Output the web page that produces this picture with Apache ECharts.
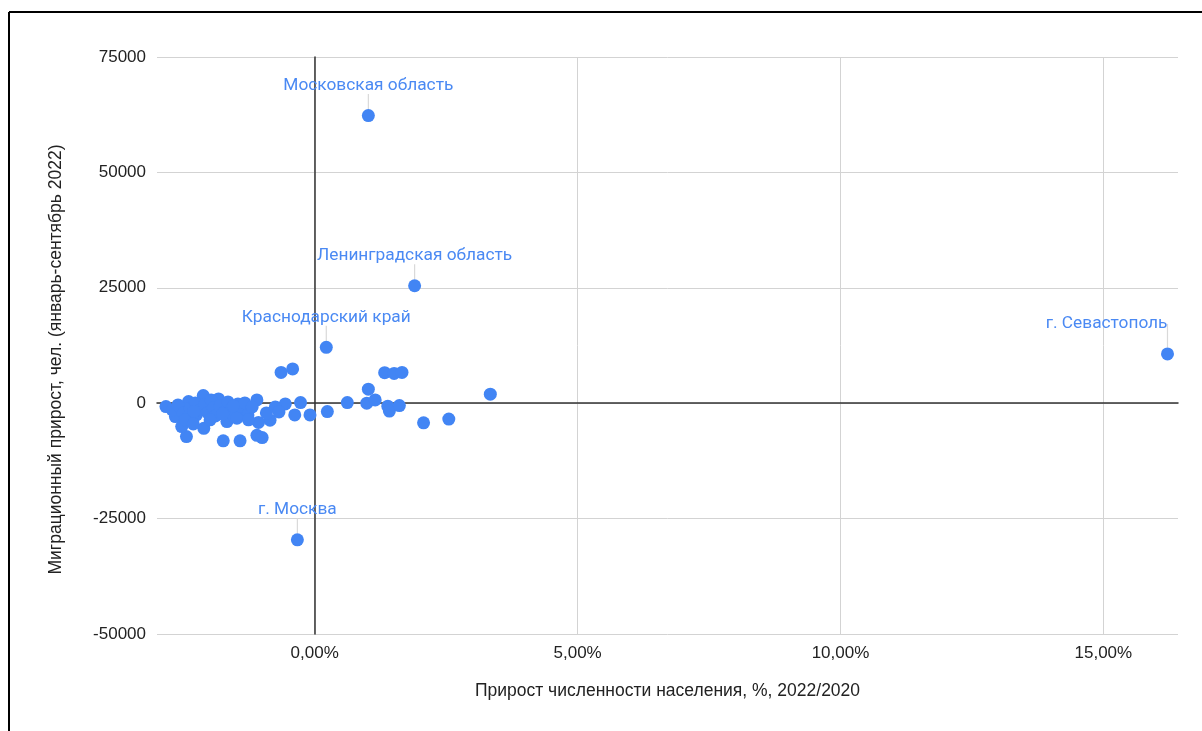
<!DOCTYPE html>
<html>
<head>
<meta charset="utf-8">
<script src="https://cdn.jsdelivr.net/npm/echarts@6/dist/echarts.min.js"></script>
<style>
html,body{margin:0;padding:0;background:#fff;}
#chart{width:1202px;height:731px;}
</style>
</head>
<body>
<div id="chart"></div>
<script>
// Population growth, %, 2022/2020
const popGrowth = [
  1.02, 1.90, 0.22, 16.22, -0.33,
  -0.64, -0.42, 1.33, 1.51, 1.66, 1.02, 3.34, 0.62, 0.99, 1.15, 1.39, 1.42, 1.61, 2.07, 2.55,
  0.24, -0.09, -0.38, -0.56, -0.27, -0.85, -1.07, -1.10, -1.00, -1.42, -1.74, -2.44, -2.53, -2.11,
  -2.65, -2.83, -2.12, -2.40, -1.83, -1.10, -1.67,
  -2.71, -2.60, -2.50, -2.37, -2.27, -2.25, -2.18, -2.09, -2.03, -1.97, -1.93, -1.89, -1.80, -1.72,
  -1.65, -1.59, -1.54, -1.46, -1.38, -1.33, -1.27, -1.19, -0.92, -0.75, -0.68, -2.46, -2.31, -1.99,
  -1.48, -1.26, -2.30, -1.75, -1.55
];
// Migration growth, persons (Jan-Sep 2022)
const migration = [
  62300, 25450, 12100, 10670, -29600,
  6670, 7420, 6620, 6450, 6670, 3030, 1950, 130, 0, 710, -650, -1710, -520, -4260, -3440,
  -1820, -2530, -2530, -150, 130, -3680, -4160, -6970, -7450, -8160, -8160, -7230, -5060, -5450,
  -2900, -740, 1650, 350, 930, 710, -3980,
  -1450, -370, -2100, -1020, 60, -2530, -1450, -150, -2100, 710, -1020, -2750, -580, -1880,
  280, -1230, -2750, -150, -1450, 60, -2530, -800, -2100, -800, -1880, -3610, -4480, -3610,
  -3250, -3610, -1800, -2300, -600
];
// Labelled regions (index -> name)
const labelNames = ['Московская область', 'Ленинградская область', 'Краснодарский край', 'г. Севастополь', 'г. Москва'];

const xTitle = 'Прирост численности населения, %, 2022/2020';
const yTitle = 'Миграционный прирост, чел. (январь-сентябрь 2022)';

const data = popGrowth.map((x, i) => {
  const name = labelNames[i] || '';
  const item = { name: name, value: [x, migration[i]] };
  if (name) {
    item.label = { show: true };
    if (name === 'г. Севастополь') item.label.align = 'right';
  }
  return item;
});

const chart = echarts.init(document.getElementById('chart'));
const tickFont = 'Liberation Sans, Arial, sans-serif';
const gridColor = '#d3d3d3';
const baseColor = '#333333';

chart.setOption({
  animation: false,
  graphic: [
    { type: 'line', shape: { x1: 9, y1: 12, x2: 1202, y2: 12 }, style: { stroke: '#000', lineWidth: 2 }, silent: true },
    { type: 'line', shape: { x1: 9, y1: 12, x2: 9, y2: 731 }, style: { stroke: '#000', lineWidth: 2 }, silent: true }
  ],
  grid: { left: 157, right: 24, top: 57, bottom: 97 },
  xAxis: [
    {
      type: 'value', min: -3, max: 16.42, splitNumber: 4,
      axisLine: { show: false, onZero: false },
      axisTick: { show: false },
      axisLabel: {
        fontSize: 17, color: '#222', fontFamily: tickFont, margin: 11,
        showMinLabel: false, showMaxLabel: false,
        formatter: v => (Math.abs(v % 5) < 1e-9 ? v.toFixed(2).replace('.', ',') + '%' : '')
      },
      splitLine: { show: true, showMinLine: false, showMaxLine: false, lineStyle: { color: gridColor, width: 1 } },
      name: xTitle, nameLocation: 'middle', nameGap: 48,
      nameTextStyle: { fontSize: 17.5, color: '#222', fontFamily: tickFont }
    },
    {
      type: 'value', min: -3, max: 16.42, position: 'top',
      axisLine: { show: true, onZero: true, lineStyle: { color: baseColor, width: 1.5 } },
      axisTick: { show: false }, axisLabel: { show: false }, splitLine: { show: false }
    }
  ],
  yAxis: [
    {
      type: 'value', min: -50000, max: 75000, interval: 25000,
      axisLine: { show: false, onZero: false },
      axisTick: { show: false },
      axisLabel: { fontSize: 17, color: '#222', fontFamily: tickFont, margin: 11, formatter: v => String(v) },
      splitLine: { show: true, lineStyle: { color: gridColor, width: 1 } },
      name: yTitle, nameLocation: 'middle', nameGap: 92,
      nameTextStyle: { fontSize: 17.5, color: '#222', fontFamily: tickFont, padding: [0, 28, 0, 0] }
    },
    {
      type: 'value', min: -50000, max: 75000, interval: 25000, position: 'right',
      axisLine: { show: true, onZero: true, lineStyle: { color: baseColor, width: 1.5 } },
      axisTick: { show: false }, axisLabel: { show: false }, splitLine: { show: false }
    }
  ],
  series: [{
    type: 'scatter',
    xAxisIndex: 0, yAxisIndex: 0,
    symbolSize: 13,
    itemStyle: { color: '#4285F4', opacity: 1 },
    label: {
      show: false, position: 'top', formatter: '{b}',
      fontSize: 17.3, color: '#4A89F3', fontFamily: 'Roboto, sans-serif'
    },
    labelLayout: { dy: -10 },
    labelLine: { show: true, lineStyle: { color: '#d9d9d9', width: 1.2 } },
    emphasis: { disabled: true },
    data: data
  }]
});
</script>
</body>
</html>
